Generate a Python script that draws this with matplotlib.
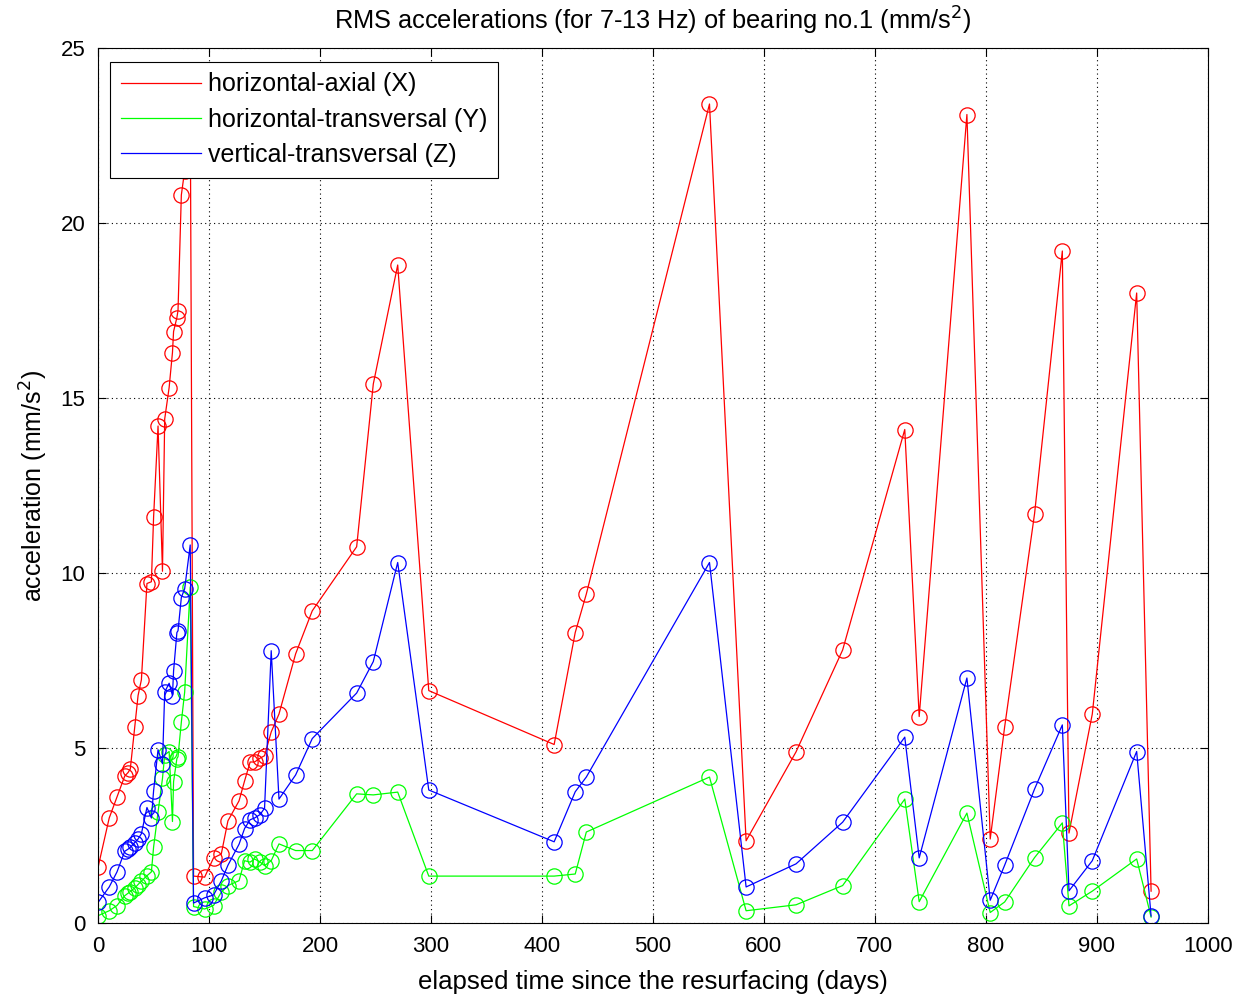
import matplotlib
matplotlib.use("Agg")
import matplotlib.pyplot as plt

plt.rcParams['font.family'] = ['Liberation Sans', 'DejaVu Sans']

days = [0, 10, 17, 24, 27, 29, 33, 36, 39, 44, 48, 50, 54, 58, 60, 64, 67, 68, 71, 72, 75, 78, 83,
        86, 96, 104, 111, 117, 127, 132, 137, 141, 146, 150, 156, 163, 178, 193, 233, 248, 270,
        298, 411, 430, 440, 551, 584, 629, 671, 727, 740, 783, 804, 817, 844, 869, 875, 896, 936, 949]

x_axial = [1.6, 3.0, 3.6, 4.2, 4.3, 4.4, 5.6, 6.5, 6.95, 9.7, 9.75, 11.6, 14.2, 10.05, 14.4, 15.3, 16.3, 16.9, 17.3, 17.5, 20.8, 21.5, 23.6,
           1.34, 1.31, 1.86, 1.97, 2.92, 3.49, 4.06, 4.6, 4.6, 4.71, 4.78, 5.46, 5.97, 7.69, 8.92, 10.75, 15.4, 18.8,
           6.64, 5.1, 8.3, 9.4, 23.4, 2.35, 4.89, 7.8, 14.1, 5.9, 23.1, 2.4, 5.6, 11.7, 19.2, 2.57, 5.97, 18.0, 0.91]

y_horiz = [0.21, 0.35, 0.5, 0.78, 0.85, 0.9, 1.0, 1.1, 1.2, 1.35, 1.46, 2.17, 3.17, 4.13, 4.8, 4.9, 2.9, 4.04, 4.7, 4.75, 5.74, 6.6, 9.6,
           0.47, 0.4, 0.5, 0.88, 1.07, 1.21, 1.78, 1.74, 1.83, 1.74, 1.64, 1.78, 2.26, 2.07, 2.07, 3.69, 3.66, 3.74,
           1.34, 1.34, 1.4, 2.6, 4.17, 0.35, 0.52, 1.07, 3.54, 0.61, 3.14, 0.3, 0.6, 1.87, 2.86, 0.49, 0.91, 1.83, 0.17]

z_vert = [0.59, 1.03, 1.46, 2.05, 2.11, 2.16, 2.3, 2.4, 2.55, 3.3, 3.0, 3.78, 4.95, 4.55, 6.6, 6.85, 6.5, 7.2, 8.3, 8.35, 9.3, 9.55, 10.8,
          0.57, 0.72, 0.8, 1.2, 1.65, 2.25, 2.7, 2.95, 3.0, 3.1, 3.28, 7.78, 3.54, 4.23, 5.27, 6.57, 7.47, 10.3,
          3.8, 2.32, 3.75, 4.17, 10.3, 1.03, 1.69, 2.88, 5.31, 1.86, 7.0, 0.65, 1.65, 3.83, 5.66, 0.92, 1.78, 4.9, 0.2]

labels = ['horizontal-axial (X)', 'horizontal-transversal (Y)', 'vertical-transversal (Z)']
colors = ['#ff0000', '#00ff00', '#0000ff']

fig = plt.figure(figsize=(12.58, 10.0), dpi=100)
ax = fig.add_axes([0.078, 0.077, 0.882, 0.875])

handles = []
for vals, lab, c in zip([x_axial, y_horiz, z_vert], labels, colors):
    ax.plot(days, vals, color=c, lw=0.9, marker='o', markersize=11, markerfacecolor='none',
            markeredgecolor=c, markeredgewidth=0.9)
    h, = ax.plot([], [], color=c, lw=0.9, label=lab)
    handles.append(h)

ax.set_xlim(0, 1000)
ax.set_ylim(0, 25)
ax.set_xticks(range(0, 1001, 100))
ax.set_yticks(range(0, 26, 5))
ax.grid(True, linestyle=(0, (1, 3)), color='black', lw=0.8)
ax.tick_params(direction='in', top=True, right=True, labelsize=16, length=6, pad=9)
for s in ax.spines.values():
    s.set_linewidth(0.8)

ax.set_title('RMS accelerations (for 7-13 Hz) of bearing no.1 (mm/s$^2$)', fontsize=18.3, pad=13)
ax.set_xlabel('elapsed time since the resurfacing (days)', fontsize=18.5, labelpad=10)
ax.set_ylabel('acceleration (mm/s$^2$)', fontsize=18, labelpad=8)

leg = ax.legend(handles=handles, loc='upper left', fontsize=18, handlelength=3.2,
                handletextpad=0.3, fancybox=False, framealpha=1, edgecolor='black',
                borderpad=0.42, borderaxespad=0, labelspacing=0.45,
                bbox_to_anchor=(0.011, 0.984))
leg.get_frame().set_linewidth(0.8)
leg.set_zorder(10)

fig.savefig('out.png', dpi=100)
